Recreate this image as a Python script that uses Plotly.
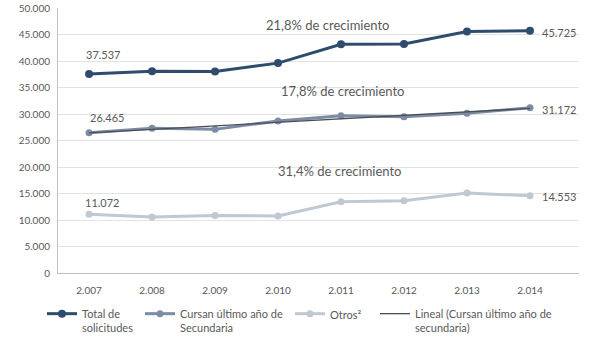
import plotly.graph_objects as go

years = ["2.007", "2.008", "2.009", "2.010", "2.011", "2.012", "2.013", "2.014"]
total = [37537, 38050, 38000, 39600, 43150, 43200, 45550, 45725]
cursan = [26465, 27300, 27100, 28700, 29650, 29500, 30150, 31172]
otros = [11072, 10550, 10850, 10750, 13450, 13650, 15100, 14553]
lineal_x = ["2.007", "2.014"]
lineal = [26450, 31060]
y_ticks = [0, 5000, 10000, 15000, 20000, 25000, 30000, 35000, 40000, 45000, 50000]

c_total = "#2f4b6e"
c_cursan = "#7b8ca4"
c_otros = "#c0c8d3"
c_lineal = "#4a4f57"
txt = "#595959"
font = "Lato"

fig = go.Figure()
fig.add_trace(go.Scatter(x=years, y=total, name="Total de<br>solicitudes", mode="lines+markers",
                         line=dict(color=c_total, width=3), marker=dict(size=8, color=c_total),
                         legend="legend"))
fig.add_trace(go.Scatter(x=years, y=cursan, name="Cursan último año de<br>Secundaria", mode="lines+markers",
                         line=dict(color=c_cursan, width=3), marker=dict(size=7, color=c_cursan),
                         legend="legend2"))
fig.add_trace(go.Scatter(x=years, y=otros, name="Otros²", mode="lines+markers",
                         line=dict(color=c_otros, width=3), marker=dict(size=7, color=c_otros),
                         legend="legend3"))
fig.add_trace(go.Scatter(x=lineal_x, y=lineal, name="Lineal (Cursan último año de<br>secundaria)", mode="lines",
                         line=dict(color=c_lineal, width=1.3), legend="legend4"))

first = 0
last = len(years) - 1

def lab(xi, y, t, xs, ys):
    fig.add_annotation(x=xi, y=y, text=t, showarrow=False, xanchor="left", yanchor="middle",
                       xshift=xs, yshift=ys, font=dict(family=font, size=11, color=txt))

lab(first, total[0], "37.537", -5, 20)
lab(first, cursan[0], "26.465", -1, 15)
lab(first, otros[0], "11.072", -6, 12)
lab(last, total[-1], "45.725", 10, -2)
lab(last, cursan[-1], "31.172", 10, -2)
lab(last, otros[-1], "14.553", 10, -1)

for xx, yy, t in [(0.518, 46800, "21,8% de crecimiento"), (0.547, 34300, "17,8% de crecimiento"),
                  (0.541, 19200, "31,4% de crecimiento")]:
    fig.add_annotation(xref="paper", x=xx, y=yy, text=t, showarrow=False, xanchor="center",
                       yanchor="middle", font=dict(family=font, size=13, color=txt))

def leg(x):
    return dict(orientation="h", xref="container", yref="container", x=x, xanchor="left",
                y=0.115, yanchor="top", valign="top", bgcolor="rgba(0,0,0,0)",
                font=dict(family=font, size=11, color=txt))

fig.update_layout(
    width=598, height=339, margin=dict(l=58, r=19, t=8, b=66, autoexpand=False),
    paper_bgcolor="white", plot_bgcolor="white", separators=",.",
    font=dict(family=font, size=10, color=txt),
    showlegend=True,
    legend=leg(42 / 598), legend2=leg(140 / 598), legend3=leg(290 / 598), legend4=leg(375 / 598),
)
fig.update_xaxes(type="category", showgrid=False, showline=True, linecolor="#bfbfbf", linewidth=1,
                 ticks="", ticklabelstandoff=8, automargin=False, tickfont=dict(size=10, color=txt))
fig.update_yaxes(range=[0, 50000], tickvals=y_ticks, tickformat=",d", showgrid=True, gridcolor="#e3e3e3",
                 showline=True, linecolor="#bfbfbf", linewidth=1, zeroline=False, ticks="",
                 ticklabelstandoff=5, automargin=False, tickfont=dict(size=10, color=txt))

fig.write_html("out.html")
